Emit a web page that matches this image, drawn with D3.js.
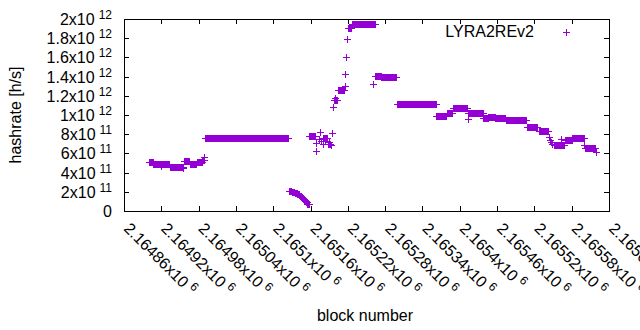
<!DOCTYPE html>
<html>
<head>
<meta charset="utf-8">
<style>
body { margin: 0; background: #fff; }
text, tspan { font-family: "Liberation Sans", Arial, sans-serif; fill: #000; }
</style>
<script src="https://cdn.jsdelivr.net/npm/d3@7"></script>
</head>
<body>
<script>
// runs of consecutive blocks sharing the same hashrate estimate (units of 1e11 h/s)
var runFrom = [2164900, 2164907, 2164934, 2164957, 2164966, 2164977, 2164986, 2164990,
  2165125, 2165130, 2165135, 2165139, 2165143, 2165146, 2165149, 2165152, 2165155,
  2165158, 2165180, 2165188, 2165197, 2165204, 2165220, 2165226, 2165264, 2165274,
  2165299, 2165362, 2165379, 2165389, 2165414, 2165438, 2165446, 2165457, 2165474,
  2165508, 2165528, 2165551, 2165570, 2165581, 2165601];
var runTo = [2164906, 2164933, 2164955, 2164965, 2164976, 2164985, 2164988, 2165124,
  2165129, 2165134, 2165138, 2165142, 2165145, 2165148, 2165151, 2165154, 2165157,
  2165167, 2165186, 2165192, 2165203, 2165214, 2165225, 2165263, 2165273, 2165298,
  2165361, 2165378, 2165388, 2165412, 2165437, 2165445, 2165456, 2165473, 2165507,
  2165525, 2165542, 2165568, 2165580, 2165600, 2165618];
var runRate = [5.07, 4.86, 4.55, 5.2, 4.93, 5.1, 5.3, 7.64,
  2.08, 2.0, 1.88, 1.72, 1.55, 1.38, 1.18, 0.98, 0.75,
  7.8, 7.57, 6.96, 11.55, 12.6, 19.05, 19.45, 14.1, 14.0,
  11.12, 9.93, 10.18, 10.7, 10.18, 9.69, 9.84, 9.7, 9.45,
  8.73, 8.3, 6.875, 7.43, 7.6, 6.56];

// single blocks sitting off the runs
var extraBlock = [2164920, 2164955, 2164989,
  2165168, 2165169, 2165173, 2165175, 2165177, 2165180, 2165183, 2165186, 2165189,
  2165191, 2165193, 2165195, 2165196, 2165199, 2165215, 2165216, 2165217, 2165219,
  2165260, 2165413, 2165543, 2165545, 2165547, 2165549, 2165563, 2165600, 2165619];
var extraRate = [4.72, 4.45, 5.65,
  6.28, 7.11, 7.5, 8.26, 7.3, 6.95, 7.3, 7.6, 7.2,
  6.95, 6.85, 8.1, 10.8, 11.75, 13.0, 14.3, 16.0, 17.9,
  13.2, 9.58, 7.74, 7.4, 7.22, 6.95, 7.47, 6.875, 6.1];

var xTicks = [2164860, 2164920, 2164980, 2165040, 2165100, 2165160, 2165220,
  2165280, 2165340, 2165400, 2165460, 2165520, 2165580, 2165640];
var xTickLabels = ["2.16486x10^6", "2.16492x10^6", "2.16498x10^6", "2.16504x10^6",
  "2.1651x10^6", "2.16516x10^6", "2.16522x10^6", "2.16528x10^6", "2.16534x10^6",
  "2.1654x10^6", "2.16546x10^6", "2.16552x10^6", "2.16558x10^6", "2.16564x10^6"];
var yTicks = [0, 2e11, 4e11, 6e11, 8e11, 1e12, 1.2e12, 1.4e12, 1.6e12, 1.8e12, 2e12];
var yTickLabels = ["0", "2x10^11", "4x10^11", "6x10^11", "8x10^11", "1x10^12",
  "1.2x10^12", "1.4x10^12", "1.6x10^12", "1.8x10^12", "2x10^12"];

var seriesName = "LYRA2REv2";
var color = "#9400d3";

var width = 640, height = 330;
var plot = {left: 124, right: 609, top: 19, bottom: 211};

var svg = d3.select("body").append("svg")
    .attr("width", width)
    .attr("height", height)
    .style("display", "block")
    .style("background", "#fff");

var x = d3.scaleLinear().domain([xTicks[0], xTicks[xTicks.length - 1]]).range([plot.left, plot.right]);
var y = d3.scaleLinear().domain([0, 2e12]).range([plot.bottom, plot.top]);

// expand the runs into one point per block
var points = [];
runFrom.forEach(function(from, i) {
  for (var b = from; b <= runTo[i]; b++) points.push({block: b, rate: runRate[i] * 1e11});
});
extraBlock.forEach(function(b, i) {
  points.push({block: b, rate: extraRate[i] * 1e11});
});

// gnuplot style "+" marker, 7px wide
function plus(cx, cy) {
  cx = Math.round(cx); cy = Math.round(cy);
  return "M" + (cx - 3) + "," + (cy + 0.5) + "H" + (cx + 4) +
         "M" + (cx + 0.5) + "," + (cy - 3) + "V" + (cy + 4);
}

// axes (ticks point inward, mirrored on top and right)
function styleAxis(g) {
  g.attr("font-size", 16).attr("font-family", null);
  g.select(".domain").remove();
  g.selectAll(".tick line").attr("shape-rendering", "crispEdges").attr("stroke", "#000");
}

var gx = svg.append("g")
    .attr("transform", "translate(0," + plot.bottom + ")")
    .style("opacity", 0.999)
    .call(d3.axisBottom(x).tickValues(xTicks).tickSizeInner(-5).tickSizeOuter(0))
    .call(styleAxis);

gx.selectAll(".tick text").each(function(d, i) {
  var parts = xTickLabels[i].split("^");
  var t = d3.select(this).text(null)
      .attr("y", null).attr("dy", null)
      .attr("text-anchor", "start")
      .attr("transform", "translate(-1.5,18.5) rotate(45)");
  t.append("tspan").text(parts[0]);
  t.append("tspan").attr("dx", 4).attr("dy", -6).attr("font-size", 12).text(parts[1]);
});

var gy = svg.append("g")
    .attr("transform", "translate(" + plot.left + ",0)")
    .call(d3.axisLeft(y).tickValues(yTicks).tickSizeInner(-5).tickSizeOuter(0).tickPadding(12))
    .call(styleAxis);

gy.selectAll(".tick text").each(function(d, i) {
  var parts = yTickLabels[i].split("^");
  var t = d3.select(this).text(null).attr("dy", null).attr("y", 5.5);
  t.append("tspan").text(parts[0]);
  if (parts[1]) t.append("tspan").attr("dx", 4).attr("dy", -6).attr("font-size", 12).text(parts[1]);
});

svg.append("g")
    .attr("transform", "translate(0," + plot.top + ")")
    .call(d3.axisTop(x).tickValues(xTicks).tickSizeInner(-5).tickSizeOuter(0).tickFormat(""))
    .call(styleAxis);

svg.append("g")
    .attr("transform", "translate(" + plot.right + ",0)")
    .call(d3.axisRight(y).tickValues(yTicks).tickSizeInner(-5).tickSizeOuter(0).tickFormat(""))
    .call(styleAxis);

// border
svg.append("rect")
    .attr("x", plot.left + 0.5)
    .attr("y", plot.top + 0.5)
    .attr("width", plot.right - plot.left)
    .attr("height", plot.bottom - plot.top)
    .attr("fill", "none")
    .attr("stroke", "#000")
    .attr("shape-rendering", "crispEdges");

// points
svg.append("g")
    .attr("stroke", color)
    .attr("fill", "none")
    .attr("shape-rendering", "crispEdges")
  .selectAll("path")
    .data(points)
  .enter().append("path")
    .attr("d", function(d) { return plus(x(d.block), y(d.rate)); });

// legend
svg.append("text")
    .attr("x", 534)
    .attr("y", 37)
    .attr("text-anchor", "end")
    .attr("font-size", 16)
    .text(seriesName);

svg.append("path")
    .attr("d", plus(566, 32))
    .attr("stroke", color)
    .attr("shape-rendering", "crispEdges");

// axis titles
svg.append("text")
    .attr("transform", "translate(21," + (plot.top + plot.bottom) / 2 + ") rotate(-90)")
    .attr("text-anchor", "middle")
    .attr("font-size", 16)
    .text("hashrate [h/s]");

svg.append("text")
    .attr("x", 365)
    .attr("y", 321)
    .attr("text-anchor", "middle")
    .attr("font-size", 16)
    .text("block number");
</script>
</body>
</html>
